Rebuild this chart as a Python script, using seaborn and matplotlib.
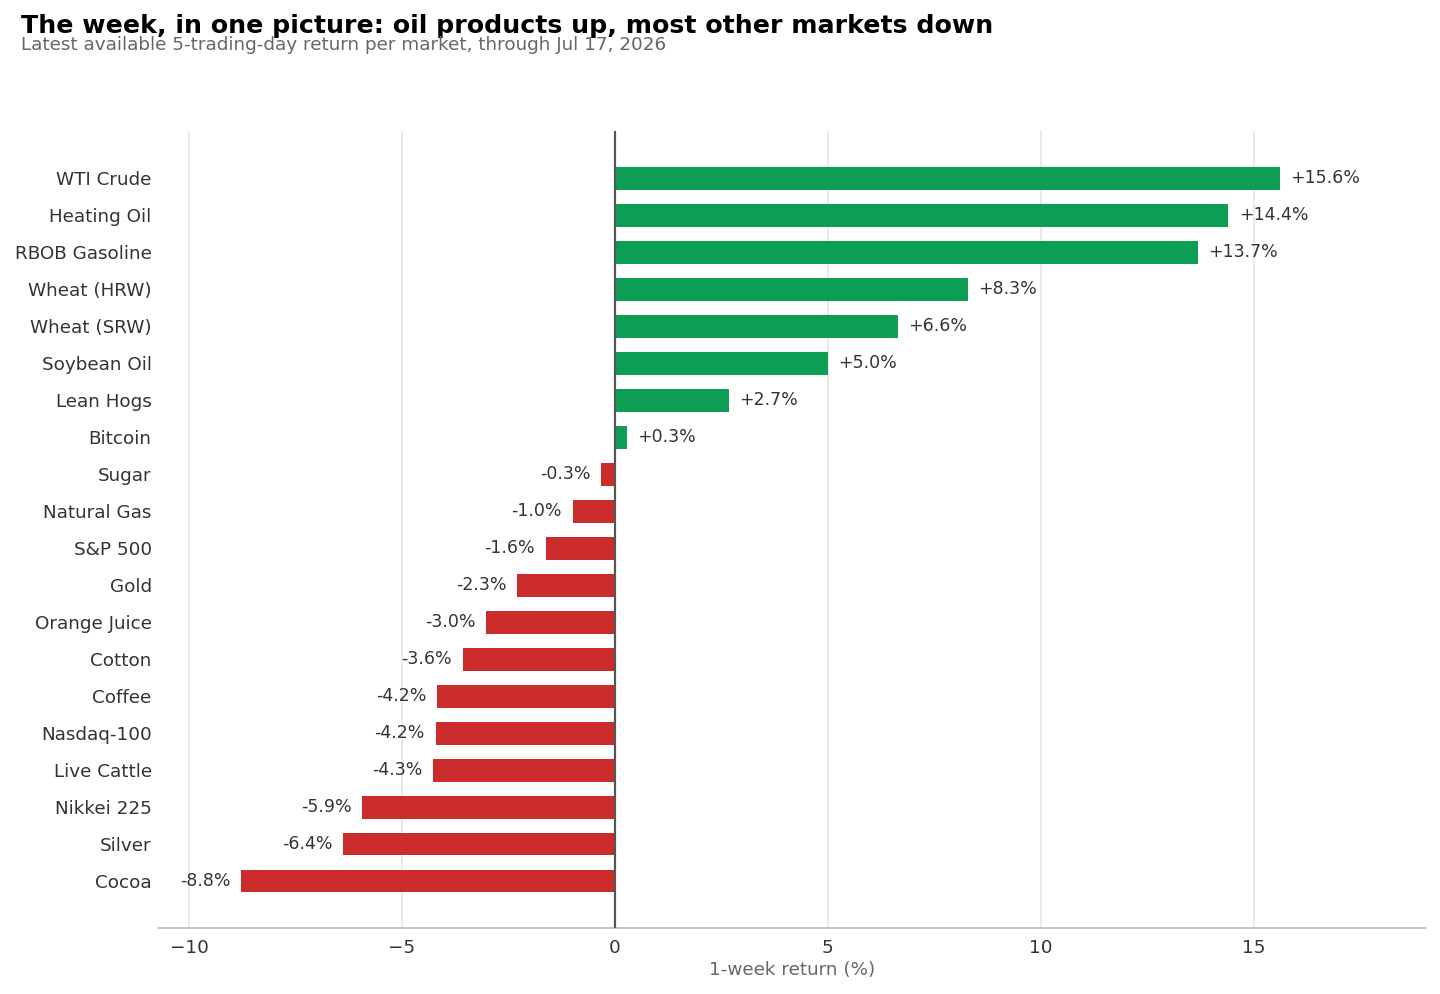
import numpy as np
import pandas as pd
import seaborn as sns
import matplotlib.pyplot as plt

# 5-trading-day returns (%)
markets = ['WTI Crude', 'Heating Oil', 'RBOB Gasoline', 'Wheat (HRW)', 'Wheat (SRW)',
           'Soybean Oil', 'Lean Hogs', 'Bitcoin', 'Sugar', 'Natural Gas', 'S&P 500',
           'Gold', 'Orange Juice', 'Cotton', 'Coffee', 'Nasdaq-100', 'Live Cattle',
           'Nikkei 225', 'Silver', 'Cocoa']
returns = [15.62, 14.40, 13.69, 8.29, 6.64, 5.00, 2.68, 0.28, -0.33, -0.99, -1.62,
           -2.30, -3.03, -3.57, -4.18, -4.21, -4.27, -5.94, -6.38, -8.78]

df = pd.DataFrame({'market': markets, 'ret': returns})
df['dir'] = np.where(df['ret'] >= 0, 'up', 'down')

sns.set_theme(style='whitegrid')
plt.rcParams['font.family'] = ['DejaVu Sans']

fig = plt.figure(figsize=(14.4, 9.94), dpi=100)
ax = fig.add_axes([0.1097, 0.0664, 0.8803, 0.8016])

palette = {'up': '#0c9e55', 'down': '#cb2d2d'}
sns.barplot(data=df, x='ret', y='market', hue='dir', palette=palette,
            dodge=False, legend=False, width=0.62, saturation=1, linewidth=0, ax=ax)

ax.set_xlim(-10.73, 19.04)
ax.set_ylim(len(markets) - 1 + 1.27, -1.27)
ax.axvline(0, color='#555555', linewidth=1.6, zorder=3)

# value labels
for i, v in enumerate(returns):
    txt = f'{v:+.1f}%'
    if v >= 0:
        ax.text(v + 0.25, i, txt, ha='left', va='center', fontsize=12.5, color='#333333')
    else:
        ax.text(v - 0.25, i, txt, ha='right', va='center', fontsize=12.5, color='#333333')

ax.grid(axis='x', color='#e6e6e6', linewidth=1.2)
ax.grid(axis='y', visible=False)
ax.set_axisbelow(True)
for s in ['top', 'right', 'left']:
    ax.spines[s].set_visible(False)
ax.spines['bottom'].set_color('#bbbbbb')
ax.spines['bottom'].set_linewidth(1.2)
ax.tick_params(axis='both', length=0, labelsize=13.2, colors='#333333')
ax.tick_params(axis='x', pad=8)
ax.tick_params(axis='y', pad=4.5)
ax.set_ylabel('')
ax.set_xlabel('1-week return (%)', fontsize=13.2, color='#666666', labelpad=3)

fig.text(0.0146, 0.986, 'The week, in one picture: oil products up, most other markets down',
         fontsize=18.2, fontweight='bold', color='black', va='top', ha='left')
fig.text(0.0146, 0.964, 'Latest available 5-trading-day return per market, through Jul 17, 2026',
         fontsize=13.2, color='#666666', va='top', ha='left')

fig.savefig('out.png', dpi=100)
